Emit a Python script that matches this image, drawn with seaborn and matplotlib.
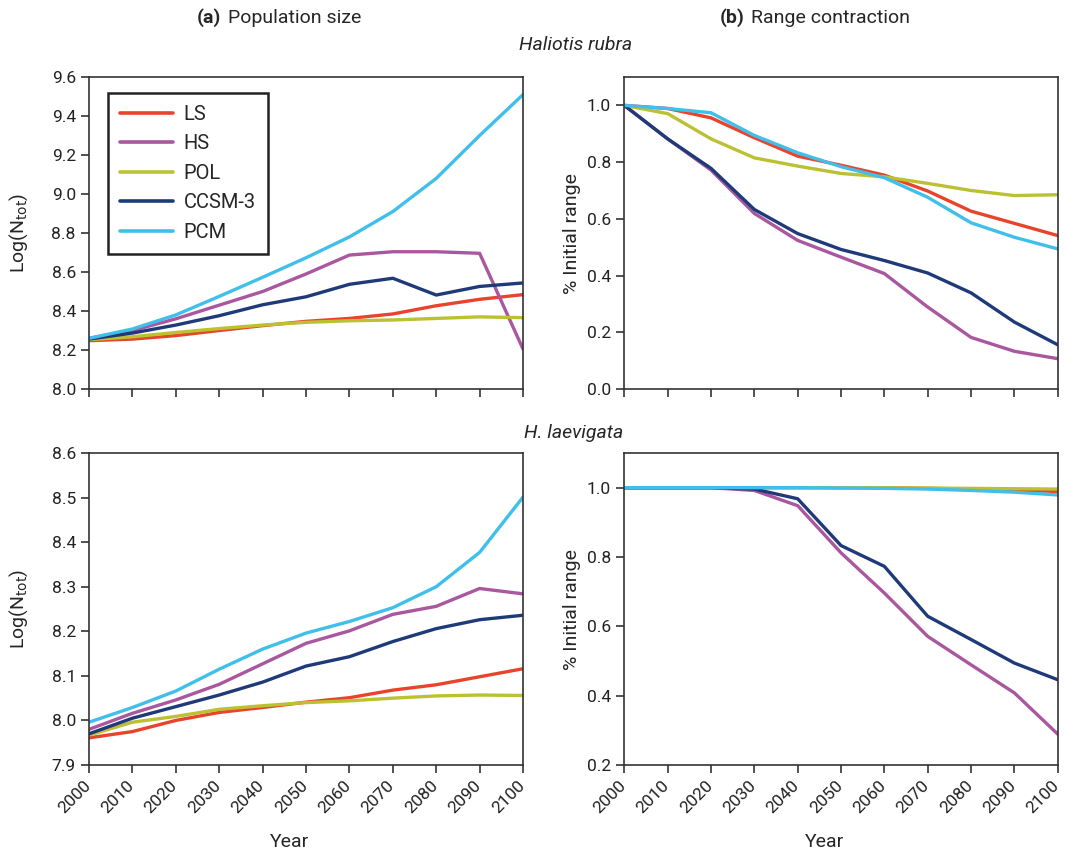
import pandas as pd
import matplotlib
matplotlib.use("Agg")
import matplotlib.pyplot as plt
import matplotlib.transforms as mtransforms
import seaborn as sns
from matplotlib.ticker import FormatStrFormatter

years = list(range(2000, 2101, 10))
scenarios = ["LS", "HS", "POL", "CCSM-3", "PCM"]
colors = ["#e8442b", "#a9579f", "#bcc133", "#1e3a78", "#3fbfe9"]

# Haliotis rubra - population size, Log(Ntot)
rubra_pop_ls = [8.248, 8.256, 8.274, 8.300, 8.325, 8.347, 8.362, 8.385, 8.427, 8.460, 8.484]
rubra_pop_hs = [8.260, 8.300, 8.360, 8.430, 8.500, 8.590, 8.687, 8.704, 8.704, 8.696, 8.205]
rubra_pop_pol = [8.253, 8.268, 8.290, 8.310, 8.328, 8.342, 8.350, 8.354, 8.362, 8.370, 8.366]
rubra_pop_ccsm = [8.256, 8.287, 8.328, 8.376, 8.432, 8.473, 8.537, 8.568, 8.482, 8.526, 8.544]
rubra_pop_pcm = [8.260, 8.308, 8.380, 8.475, 8.573, 8.673, 8.780, 8.910, 9.080, 9.300, 9.510]

# Haliotis rubra - range contraction, fraction of initial range
rubra_rng_ls = [1.0, 0.989, 0.956, 0.886, 0.821, 0.789, 0.754, 0.698, 0.627, 0.584, 0.541]
rubra_rng_hs = [1.0, 0.882, 0.772, 0.619, 0.524, 0.465, 0.407, 0.289, 0.182, 0.133, 0.107]
rubra_rng_pol = [1.0, 0.971, 0.882, 0.815, 0.786, 0.760, 0.748, 0.725, 0.700, 0.682, 0.685]
rubra_rng_ccsm = [1.0, 0.882, 0.778, 0.633, 0.548, 0.492, 0.453, 0.409, 0.339, 0.236, 0.156]
rubra_rng_pcm = [1.0, 0.989, 0.974, 0.894, 0.833, 0.784, 0.745, 0.676, 0.586, 0.535, 0.494]

# H. laevigata - population size
laev_pop_ls = [7.961, 7.975, 8.000, 8.018, 8.029, 8.041, 8.051, 8.068, 8.080, 8.098, 8.116]
laev_pop_hs = [7.980, 8.016, 8.046, 8.081, 8.127, 8.173, 8.201, 8.238, 8.256, 8.296, 8.284]
laev_pop_pol = [7.967, 7.996, 8.009, 8.025, 8.033, 8.040, 8.044, 8.050, 8.055, 8.057, 8.056]
laev_pop_ccsm = [7.970, 8.005, 8.031, 8.057, 8.086, 8.122, 8.143, 8.177, 8.206, 8.226, 8.236]
laev_pop_pcm = [7.996, 8.029, 8.066, 8.115, 8.160, 8.196, 8.222, 8.253, 8.300, 8.377, 8.501]

# H. laevigata - range contraction
laev_rng_ls = [1.0, 1.0, 1.0, 1.0, 1.0, 1.0, 1.0, 0.998, 0.996, 0.993, 0.989]
laev_rng_hs = [1.0, 1.0, 1.0, 0.992, 0.948, 0.812, 0.696, 0.571, 0.489, 0.408, 0.289]
laev_rng_pol = [1.0, 1.0, 1.0, 1.0, 1.0, 1.0, 1.0, 0.999, 0.998, 0.997, 0.996]
laev_rng_ccsm = [1.0, 1.0, 1.0, 0.996, 0.968, 0.833, 0.773, 0.629, 0.562, 0.494, 0.446]
laev_rng_pcm = [1.0, 1.0, 1.0, 1.0, 1.0, 0.999, 0.998, 0.996, 0.992, 0.987, 0.979]


def to_long(series):
    rows = []
    for name, vals in zip(scenarios, series):
        for yr, v in zip(years, vals):
            rows.append({"Year": yr, "value": v, "scenario": name})
    return pd.DataFrame(rows)


sns.set_style("ticks")
plt.rcParams["font.family"] = ["Roboto", "DejaVu Sans"]
plt.rcParams["axes.edgecolor"] = "#333333"
plt.rcParams["axes.linewidth"] = 1.2

fig = plt.figure(figsize=(10.65, 8.52), dpi=100)
ax_tl = fig.add_axes([0.0836, 0.5434, 0.4075, 0.3662])
ax_tr = fig.add_axes([0.5862, 0.5434, 0.4070, 0.3662])
ax_bl = fig.add_axes([0.0836, 0.1021, 0.4075, 0.3662])
ax_br = fig.add_axes([0.5862, 0.1021, 0.4070, 0.3662])

# nudge the rotated year labels a few pixels left so the last one stays inside the figure
shift = mtransforms.ScaledTranslation(-0.06, 0, fig.dpi_scale_trans)


def draw(ax, series, ylim, yticks, ylabel, legend=False):
    sns.lineplot(data=to_long(series), x="Year", y="value", hue="scenario",
                 hue_order=scenarios, palette=colors, linewidth=2.4,
                 ax=ax, legend=legend)
    ax.set_xlim(2000, 2100)
    ax.set_ylim(*ylim)
    ax.set_xticks(years)
    ax.set_yticks(yticks)
    ax.yaxis.set_major_formatter(FormatStrFormatter("%.1f"))
    ax.tick_params(direction="out", length=6, width=1.1, labelsize=12.5, colors="#222222")
    for lab in ax.get_xticklabels():
        lab.set_rotation(45)
        lab.set_ha("right")
        lab.set_rotation_mode("anchor")
        lab.set_transform(lab.get_transform() + shift)
    ax.set_ylabel(ylabel, fontsize=14)
    ax.set_xlabel("Year", fontsize=14)
    ax.xaxis.set_label_coords(0.462, -0.218)
    for s in ax.spines.values():
        s.set_visible(True)


draw(ax_tl, [rubra_pop_ls, rubra_pop_hs, rubra_pop_pol, rubra_pop_ccsm, rubra_pop_pcm],
     (8.0, 9.6), [8.0, 8.2, 8.4, 8.6, 8.8, 9.0, 9.2, 9.4, 9.6], r"Log(N$_{\mathrm{tot}}$)", legend=True)
draw(ax_tr, [rubra_rng_ls, rubra_rng_hs, rubra_rng_pol, rubra_rng_ccsm, rubra_rng_pcm],
     (0.0, 1.1), [0.0, 0.2, 0.4, 0.6, 0.8, 1.0], "% Initial range")
draw(ax_bl, [laev_pop_ls, laev_pop_hs, laev_pop_pol, laev_pop_ccsm, laev_pop_pcm],
     (7.9, 8.6), [7.9, 8.0, 8.1, 8.2, 8.3, 8.4, 8.5, 8.6], r"Log(N$_{\mathrm{tot}}$)")
draw(ax_br, [laev_rng_ls, laev_rng_hs, laev_rng_pol, laev_rng_ccsm, laev_rng_pcm],
     (0.2, 1.1), [0.2, 0.4, 0.6, 0.8, 1.0], "% Initial range")

for ax in (ax_tl, ax_tr):
    ax.set_xlabel("")
    ax.tick_params(axis="x", labelbottom=False)

ax_tl.yaxis.set_label_coords(-0.135, 0.5)
ax_bl.yaxis.set_label_coords(-0.135, 0.5)

handles, labels = ax_tl.get_legend_handles_labels()
leg = ax_tl.legend(handles, labels, loc="upper left", bbox_to_anchor=(0.044, 0.949),
                   borderaxespad=0, fontsize=14.5, handlelength=2.6, handletextpad=0.55,
                   labelspacing=0.52, borderpad=0.6, fancybox=False, framealpha=1,
                   edgecolor="#222222")
leg.get_frame().set_linewidth(1.8)
for h in leg.get_lines():
    h.set_linewidth(2.6)

# column titles and species names
fig.text(0.2080, 0.979, "(a)", fontsize=14, fontweight="bold", ha="right", va="center")
fig.text(0.2145, 0.979, "Population size", fontsize=14, ha="left", va="center")
fig.text(0.6990, 0.979, "(b)", fontsize=14, fontweight="bold", ha="right", va="center")
fig.text(0.7055, 0.979, "Range contraction", fontsize=14, ha="left", va="center")
fig.text(0.540, 0.947, "Haliotis rubra", fontsize=14, style="italic", ha="center", va="center")
fig.text(0.539, 0.492, "H. laevigata", fontsize=14, style="italic", ha="center", va="center")

fig.savefig("out.png", dpi=100)
